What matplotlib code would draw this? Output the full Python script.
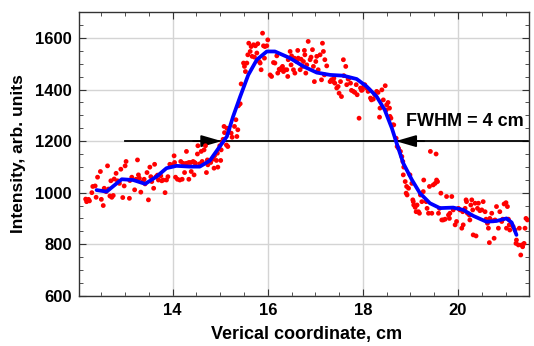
import matplotlib
matplotlib.use("Agg")
import matplotlib.pyplot as plt

# ---------------- data ----------------
pts_x = [
 12.17, 12.19, 12.23, 12.25, 12.30, 12.32, 12.37, 12.39, 12.42, 12.48, 12.50, 12.54, 12.56, 12.60, 12.63,
 12.65, 12.68, 12.70, 12.72, 12.75, 12.77, 12.81, 12.84, 12.88, 12.91, 12.95, 12.98, 13.00, 13.02, 13.09,
 13.10, 13.14, 13.20, 13.23, 13.26, 13.28, 13.30, 13.33, 13.37, 13.40, 13.42, 13.46, 13.49, 13.52, 13.54,
 13.56, 13.60, 13.62, 13.65, 13.68, 13.70, 13.75, 13.77, 13.80, 13.84, 13.87, 13.90, 13.94,
 13.99, 14.03, 14.04, 14.06, 14.10, 14.15, 14.17, 14.20, 14.22, 14.25, 14.29, 14.29, 14.34, 14.34, 14.38,
 14.39, 14.43, 14.45, 14.46, 14.48, 14.52, 14.53, 14.57, 14.60, 14.62, 14.66, 14.69, 14.71, 14.73, 14.74,
 14.78, 14.80, 14.85, 14.87, 14.88, 14.92, 14.94, 14.95, 14.99, 15.01, 15.02, 15.04, 15.06, 15.08, 15.09,
 15.13, 15.16,
 15.14, 15.18, 15.23, 15.25, 15.30, 15.33, 15.35, 15.37, 15.38, 15.39, 15.42, 15.44, 15.49, 15.51, 15.53,
 15.56, 15.58, 15.60, 15.63, 15.65, 15.67, 15.70, 15.72, 15.74, 15.77, 15.79, 15.82, 15.84, 15.86, 15.89,
 15.91, 15.93, 15.94, 15.98, 16.00, 16.05, 16.08, 16.12, 16.15, 16.19, 16.21, 16.24, 16.26, 16.28, 16.31,
 16.33, 16.36, 16.40, 16.42, 16.43, 16.47, 16.49, 16.50, 16.54, 16.56, 16.57, 16.61, 16.63, 16.64, 16.68,
 16.70, 16.73, 16.75, 16.77, 16.78, 16.80, 16.82, 16.85, 16.89, 16.91, 16.94, 16.96, 16.98, 17.01, 17.03,
 17.06, 17.10, 17.13, 17.15, 17.17, 17.19,
 17.20, 17.24, 17.31, 17.34, 17.38, 17.39, 17.41, 17.45, 17.48, 17.50, 17.53, 17.55, 17.59, 17.60, 17.64,
 17.66, 17.69, 17.71, 17.74, 17.76, 17.80, 17.83, 17.86, 17.88, 17.92, 17.95, 17.97, 17.99, 18.02, 18.04,
 18.08, 18.11, 18.13, 18.16, 18.18, 18.22, 18.25, 18.29, 18.32, 18.35, 18.36, 18.40, 18.43, 18.47, 18.49,
 18.50, 18.53, 18.56, 18.57, 18.59, 18.63, 18.65, 18.70, 18.72, 18.75,
 18.79, 18.82, 18.84, 18.86, 18.85, 18.89, 18.92, 18.91, 18.96, 18.93, 18.99, 19.03, 19.05, 19.06, 19.07,
 19.10, 19.12, 19.14, 19.17, 19.19, 19.21, 19.24, 19.27, 19.28, 19.33, 19.35, 19.38, 19.40, 19.42, 19.45,
 19.48, 19.52, 19.54, 19.55, 19.57, 19.59, 19.61, 19.64, 19.66, 19.69, 19.73, 19.76, 19.80, 19.82, 19.83,
 19.87, 19.90, 19.94, 19.97, 20.01, 20.04, 20.08, 20.10, 20.11, 20.15, 20.17, 20.18, 20.20, 20.24, 20.25,
 20.27, 20.29, 20.31, 20.32, 20.36, 20.38, 20.41, 20.43, 20.46, 20.50, 20.53, 20.57, 20.59, 20.62, 20.64,
 20.66, 20.67, 20.71, 20.74, 20.76, 20.78, 20.81, 20.85, 20.88, 20.92, 20.94, 20.97, 21.01, 21.02, 21.04,
 21.06, 21.08, 21.09, 21.13, 21.16, 21.20, 21.22, 21.23, 21.27, 21.29, 21.32, 21.34, 21.36, 21.39, 21.41,
 21.43, 21.46,
]
pts_y = [
 975, 965, 974, 968, 1000, 1024, 1026, 982, 1060, 1082, 974, 950, 1017, 1004, 1104,
 1014, 987, 1046, 982, 989, 1053, 1075, 1046, 1036, 1091, 981, 1026, 1104, 1121, 978,
 1047, 1060, 1011, 1052, 1127, 1069, 1056, 1002, 1043, 1052, 1034, 1078, 972, 1099, 1062,
 1043, 1017, 1110, 1062, 1068, 1049, 1065, 1046, 1049, 1000, 1049, 1062, 1110,
 1108, 1143, 1117, 1060, 1052, 1049, 1121, 1052, 1114, 1078, 1160, 1114, 1117, 1052, 1117,
 1082, 1121, 1069, 1117, 1114, 1150, 1182, 1112, 1160, 1121, 1166, 1182, 1078, 1127, 1108,
 1121, 1117, 1130, 1095, 1143, 1125, 1153, 1099, 1182, 1125, 1166, 1195, 1207, 1257, 1233,
 1185, 1179,
 1250, 1246, 1231, 1215, 1257, 1283, 1218, 1244, 1337, 1341, 1345, 1422, 1503, 1490, 1470,
 1503, 1535, 1580, 1548, 1567, 1529, 1574, 1526, 1570, 1542, 1578, 1509, 1503, 1477, 1619,
 1570, 1522, 1567, 1570, 1593, 1457, 1451, 1505, 1503, 1531, 1464, 1479, 1477, 1483, 1490,
 1470, 1477, 1477, 1451, 1516, 1548, 1496, 1531, 1477, 1522, 1464, 1509, 1552, 1522, 1477,
 1518, 1490, 1509, 1552, 1535, 1464, 1496, 1587, 1516, 1526, 1555, 1490, 1431, 1509, 1529,
 1477, 1535, 1438, 1580, 1548, 1457,
 1516, 1492, 1431, 1438, 1431, 1444, 1425, 1406, 1412, 1386, 1431, 1373, 1516, 1454, 1490,
 1419, 1441, 1444, 1425, 1397, 1393, 1389, 1419, 1380, 1289, 1406, 1397, 1399, 1412, 1419,
 1406, 1393, 1399, 1367, 1360, 1363, 1380, 1393, 1389, 1293, 1328, 1399, 1360, 1415, 1321,
 1341, 1350, 1328, 1296, 1289, 1263, 1263, 1211, 1179, 1172,
 1160, 1140, 1121, 1099, 1069, 1043, 1024, 998, 1017, 991, 1069, 1036, 972, 965, 952,
 943, 926, 952, 926, 920, 991, 965, 1004, 1049, 965, 939, 920, 1024, 1160, 920,
 1030, 1036, 1150, 1049, 1043, 920, 939, 998, 894, 894, 897, 985, 913, 900, 920,
 985, 933, 875, 888, 939, 933, 862, 926, 875, 939, 972, 965, 920, 913, 894,
 952, 972, 933, 836, 959, 832, 939, 959, 930, 933, 965, 926, 897, 881, 862,
 806, 900, 920, 891, 823, 894, 946, 862, 926, 888, 897, 956, 961, 862, 946,
 897, 875, 855, 875, 868, 855, 803, 816, 797, 862, 758, 797, 790, 803, 862,
 900, 894,
]

fit_x = [12.40, 12.61, 12.93, 13.17, 13.42, 13.66, 13.87, 14.08, 14.36, 14.57, 14.78, 14.99, 15.14, 15.27,
         15.42, 15.59, 15.77, 15.98, 16.15, 16.47, 16.75, 17.03, 17.31, 17.59, 17.87, 18.08, 18.29, 18.46,
         18.61, 18.71, 18.85, 19.03, 19.20, 19.41, 19.62, 19.90, 20.11, 20.32, 20.60, 20.81, 21.02, 21.13, 21.23]
fit_y = [1010, 1004, 1052, 1049, 1034, 1062, 1095, 1104, 1101, 1101, 1124, 1179, 1218, 1295,
         1373, 1457, 1516, 1548, 1548, 1522, 1490, 1466, 1457, 1454, 1441, 1412, 1373, 1321,
         1250, 1192, 1114, 1050, 998, 959, 940, 942, 933, 910, 887, 890, 900, 884, 836]

level = 1200
line_start, line_end = 13.0, 21.47
left_edge, right_edge = 15.03, 18.69
fwhm_label = "FWHM = 4 cm"

x_ticks = [14, 16, 18, 20]
y_ticks = [600, 800, 1000, 1200, 1400, 1600]

# ---------------- figure ----------------
plt.rcParams['font.family'] = ['Liberation Sans', 'DejaVu Sans']
plt.rcParams['font.weight'] = 'bold'

fig = plt.figure(figsize=(5.34, 3.46), dpi=100)
ax = fig.add_axes([79/534, 1-295.7/346, 450.3/534, 283.4/346])

ax.set_xlim(12.03, 21.5)
ax.set_ylim(600, 1700)

ax.grid(True, which='major', color='#d4d4d4', linewidth=1.0, zorder=0)
ax.set_axisbelow(True)

ax.plot([line_start, line_end], [level, level], color='black', linewidth=1.3, zorder=2)
ax.annotate('', xy=(left_edge, level), xytext=(left_edge - 0.6, level),
            arrowprops=dict(arrowstyle='-|>,head_length=0.62,head_width=0.18',
                            mutation_scale=20, color='black', lw=1.3, shrinkA=0, shrinkB=0),
            zorder=2)
ax.annotate('', xy=(right_edge, level), xytext=(right_edge + 0.6, level),
            arrowprops=dict(arrowstyle='-|>,head_length=0.62,head_width=0.18',
                            mutation_scale=20, color='black', lw=1.3, shrinkA=0, shrinkB=0),
            zorder=2)

ax.scatter(pts_x, pts_y, s=12, color='#ff0000', edgecolors='none', zorder=3)
ax.plot(fit_x, fit_y, color='#0000ff', linewidth=2.7, solid_capstyle='round', zorder=4)

ax.text(18.91, 1260, fwhm_label, fontsize=13, fontweight='bold', ha='left', va='baseline', zorder=6)

ax.set_xticks(x_ticks)
ax.set_yticks(y_ticks)
ax.set_xticks([t/2 for t in range(25, 44)], minor=True)
ax.set_yticks(list(range(600, 1701, 50)), minor=True)
ax.tick_params(which='both', direction='in', top=True, right=True, labelsize=12, color='#333333')
ax.tick_params(which='major', length=5, width=0.8, pad=5)
ax.tick_params(which='minor', length=3, width=0.6)
for lbl in ax.get_xticklabels() + ax.get_yticklabels():
    lbl.set_fontweight('bold')
for sp in ax.spines.values():
    sp.set_linewidth(1.0)
    sp.set_color('#333333')

fig.text(19/534, 1-(295.7-141.7)/346, "Intensity, arb. units", rotation=90,
         fontsize=12.5, fontweight='bold', ha='center', va='center')
fig.text(307/534, 1-335/346, "Verical coordinate, cm", fontsize=13, fontweight='bold',
         ha='center', va='center')

fig.savefig('out.png', dpi=100)
